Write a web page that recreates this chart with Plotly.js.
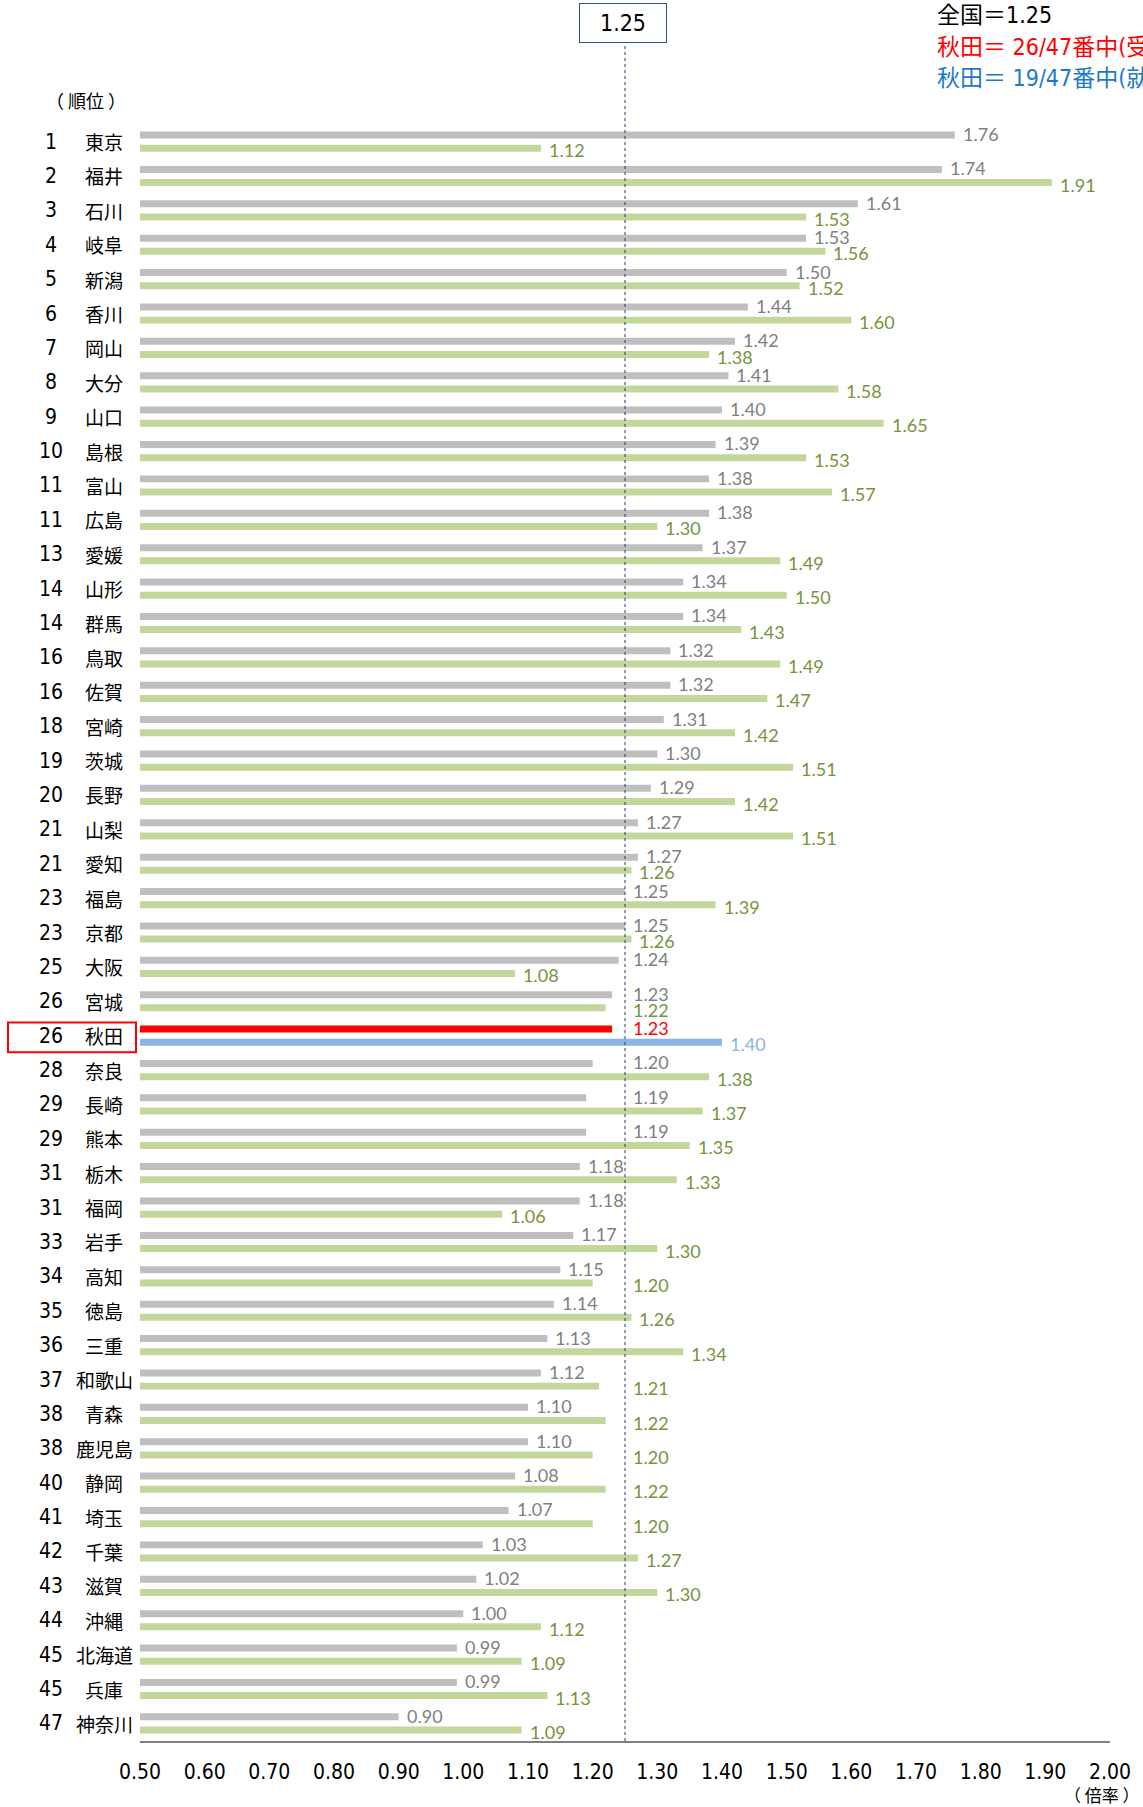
<!DOCTYPE html>
<html><head><meta charset="utf-8">
<script src="https://cdn.plot.ly/plotly-3.0.1.min.js"></script>
<style>html,body{margin:0;padding:0;background:#fff;overflow:hidden}#chart{width:1143px;height:1807px}</style>
</head><body><div id="chart"></div>
<script>
// ---- data ----
const ranks = ["1","2","3","4","5","6","7","8","9","10","11","11","13","14","14","16","16","18","19","20","21","21","23","23","25","26","26","28","29","29","31","31","33","34","35","36","37","38","38","40","41","42","43","44","45","45","47"];
const prefectures = ["東京","福井","石川","岐阜","新潟","香川","岡山","大分","山口","島根","富山","広島","愛媛","山形","群馬","鳥取","佐賀","宮崎","茨城","長野","山梨","愛知","福島","京都","大阪","宮城","秋田","奈良","長崎","熊本","栃木","福岡","岩手","高知","徳島","三重","和歌山","青森","鹿児島","静岡","埼玉","千葉","滋賀","沖縄","北海道","兵庫","神奈川"];
// 受理地別 (gray)
const juriValues = [1.76,1.74,1.61,1.53,1.50,1.44,1.42,1.41,1.40,1.39,1.38,1.38,1.37,1.34,1.34,1.32,1.32,1.31,1.30,1.29,1.27,1.27,1.25,1.25,1.24,1.23,1.23,1.20,1.19,1.19,1.18,1.18,1.17,1.15,1.14,1.13,1.12,1.10,1.10,1.08,1.07,1.03,1.02,1.00,0.99,0.99,0.90];
// 就業地別 (green)
const shugyoValues = [1.12,1.91,1.53,1.56,1.52,1.60,1.38,1.58,1.65,1.53,1.57,1.30,1.49,1.50,1.43,1.49,1.47,1.42,1.51,1.42,1.51,1.26,1.39,1.26,1.08,1.22,1.40,1.38,1.37,1.35,1.33,1.06,1.30,1.20,1.26,1.34,1.21,1.22,1.20,1.22,1.20,1.27,1.30,1.12,1.09,1.13,1.09];
const nationalValue = 1.25;
const highlightPref = "秋田";
const xTickValues = [0.50,0.60,0.70,0.80,0.90,1.00,1.10,1.20,1.30,1.40,1.50,1.60,1.70,1.80,1.90,2.00];
const xTickLabels = ["0.50","0.60","0.70","0.80","0.90","1.00","1.10","1.20","1.30","1.40","1.50","1.60","1.70","1.80","1.90","2.00"];
const legendLines = ["全国＝1.25","秋田＝ 26/47番中(受理地別)","秋田＝ 19/47番中(就業地別)"];
const rankHeader = "（ 順位 ）";
const unitLabel = "（ 倍率 ）";

// ---- styling ----
const W = 1143, H = 1807;
const M = {l:140, r:33, t:123, b:66};
const plotW = W - M.l - M.r, plotH = H - M.t - M.b;
const X_RANGE = [0.5, 2.0];
const px2x = p => (p - M.l) / plotW;
const py2y = p => (H - M.b - p) / plotH;
const pxPerUnit = plotW / (X_RANGE[1] - X_RANGE[0]);

const NARROW = '"Liberation Sans Narrow","DejaVu Sans Condensed","Noto Sans CJK JP",sans-serif';
const CJK = '"Noto Sans CJK JP",sans-serif';
const LABEL = 'Lato,"Open Sans",sans-serif';

const GRAY = '#bfbfbf', GREEN = '#c3d69b', RED = '#ff0000', BLUE = '#8db4e2';
const GRAY_T = '#7f7f7f', GREEN_T = '#77933c', BLUE_T = '#8db4e2';

const BARGAP = 0.233, BARGROUPGAP = 0.47;
const slotOffset = (1 - BARGAP) / 4;   // centre offset of each bar in a group (category units)

const hi = prefectures.indexOf(highlightPref);

const grayColors = prefectures.map((p,i) => i === hi ? RED : GRAY);
const greenColors = prefectures.map((p,i) => i === hi ? BLUE : GREEN);

const traces = [
  {type:'bar', orientation:'h', y:prefectures, x:juriValues, marker:{color:grayColors}, hoverinfo:'skip'},
  {type:'bar', orientation:'h', y:prefectures, x:shugyoValues, marker:{color:greenColors}, hoverinfo:'skip'}
];

// value labels: placed after the bar end; labels that would run across the
// national-average line are moved just to the right of that line (as in the original)
const LABEL_PAD = 6, LABEL_W = 36;
function labelAnchor(v) {
  const crosses = v < nationalValue && (v - X_RANGE[0]) * pxPerUnit + LABEL_PAD + LABEL_W > (nationalValue - X_RANGE[0]) * pxPerUnit;
  return crosses ? nationalValue : v;
}

const annotations = [];
prefectures.forEach((p,i) => {
  annotations.push({xref:'paper', yref:'y', x:px2x(51), y:p, text:ranks[i], showarrow:false,
    xanchor:'center', yanchor:'middle', font:{family:NARROW, size:21, color:'#000'}});
  annotations.push({xref:'paper', yref:'y', x:px2x(104), y:p, text:p, showarrow:false,
    xanchor:'center', yanchor:'middle', font:{family:CJK, size:19, color:'#000'}});
  const gv = juriValues[i], sv = shugyoValues[i];
  annotations.push({xref:'x', yref:'y', x:labelAnchor(gv), y:i - slotOffset, text:gv.toFixed(2), showarrow:false,
    xanchor:'left', yanchor:'middle', xshift:LABEL_PAD, yshift:1,
    font:{family:LABEL, size:18, color: i === hi ? RED : GRAY_T}});
  annotations.push({xref:'x', yref:'y', x:labelAnchor(sv), y:i + slotOffset, text:sv.toFixed(2), showarrow:false,
    xanchor:'left', yanchor:'middle', xshift:LABEL_PAD, yshift:-2,
    font:{family:LABEL, size:18, color: i === hi ? BLUE_T : GREEN_T}});
});
annotations.push({xref:'paper', yref:'paper', x:px2x(86), y:py2y(100), text:rankHeader, showarrow:false,
  xanchor:'center', yanchor:'middle', font:{family:CJK, size:18, color:'#000'}});
annotations.push({xref:'paper', yref:'paper', x:px2x(1142), y:py2y(1794), text:unitLabel, showarrow:false,
  xanchor:'right', yanchor:'middle', font:{family:CJK, size:17, color:'#000'}});
annotations.push({xref:'x', yref:'paper', x:nationalValue, y:py2y(23), text:nationalValue.toFixed(2), showarrow:false,
  xanchor:'center', yanchor:'middle', xshift:-2, width:86, height:38, borderpad:0, borderwidth:1, bordercolor:'#2f528f',
  bgcolor:'#fff', font:{family:NARROW, size:23, color:'#000'}});
const legendColors = ['#000000', '#ff0000', '#1e78c8'];
const legendY = [15, 47, 78];
legendLines.forEach((t,i) => {
  annotations.push({xref:'paper', yref:'paper', x:px2x(935), y:py2y(legendY[i]), text:t, showarrow:false,
    xanchor:'left', yanchor:'middle', font:{family:NARROW, size:23, color:legendColors[i]}});
});

const shapes = [
  {type:'line', xref:'x', yref:'paper', x0:nationalValue, x1:nationalValue, y0:0, y1:py2y(43),
    line:{color:'#1f3864', width:1, dash:'dot'}},
  {type:'rect', xref:'paper', yref:'y', x0:px2x(8), x1:px2x(136), y0:hi-0.38, y1:hi+0.48,
    line:{color:RED, width:2}, fillcolor:'rgba(0,0,0,0)'}
];

const layout = {
  width:W, height:H, margin:M, paper_bgcolor:'#fff', plot_bgcolor:'#fff',
  barmode:'group', bargap:BARGAP, bargroupgap:BARGROUPGAP, showlegend:false,
  xaxis:{range:X_RANGE, tickvals:xTickValues, ticktext:xTickLabels, showgrid:false, zeroline:false,
    showline:true, linecolor:'#808080', linewidth:2, ticks:'outside', ticklen:11, tickcolor:'rgba(0,0,0,0)',
    tickfont:{family:NARROW, size:21, color:'#000'}},
  yaxis:{type:'category', autorange:'reversed', showticklabels:false, showgrid:false, zeroline:false,
    showline:false, ticks:''},
  shapes:shapes, annotations:annotations
};

Plotly.newPlot('chart', traces, layout, {staticPlot:true, displayModeBar:false});
</script></body></html>
